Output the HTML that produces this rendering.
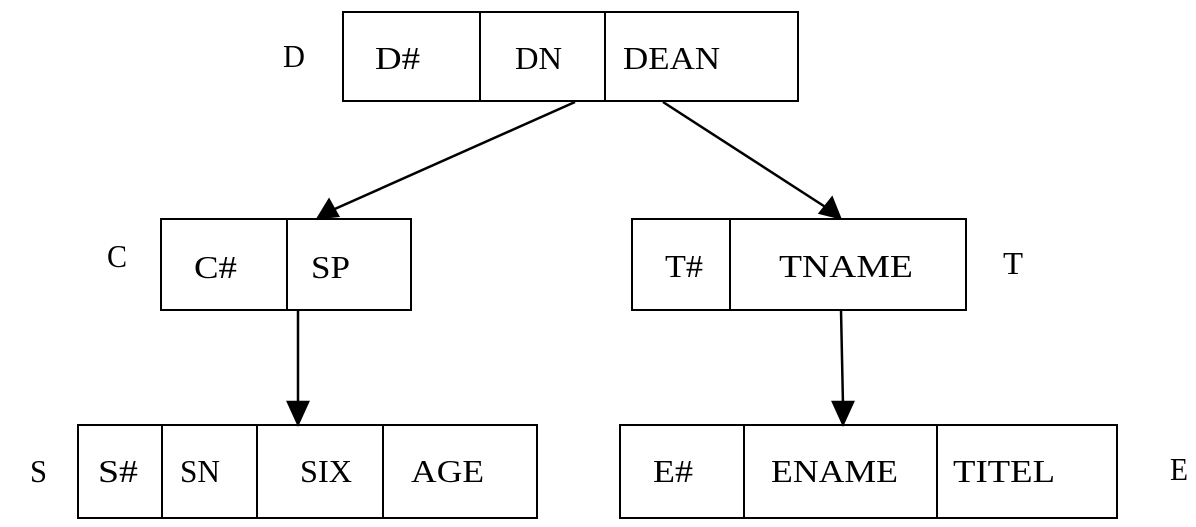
<!DOCTYPE html>
<html><head><meta charset="utf-8"><style>html,body{margin:0;padding:0;background:#fff}svg{display:block}</style></head>
<body>
<svg width="1196" height="527" viewBox="0 0 1196 527" xmlns="http://www.w3.org/2000/svg">
<g fill="none" stroke="#000" stroke-width="2">
<rect x="343" y="12" width="455" height="89"/><line x1="480" y1="12" x2="480" y2="101"/><line x1="605" y1="12" x2="605" y2="101"/>
<rect x="161" y="219" width="250" height="91"/><line x1="287" y1="219" x2="287" y2="310"/>
<rect x="632" y="219" width="334" height="91"/><line x1="730" y1="219" x2="730" y2="310"/>
<rect x="78" y="425" width="459" height="93"/><line x1="162" y1="425" x2="162" y2="518"/><line x1="257" y1="425" x2="257" y2="518"/><line x1="383" y1="425" x2="383" y2="518"/>
<rect x="620" y="425" width="497" height="93"/><line x1="744" y1="425" x2="744" y2="518"/><line x1="937" y1="425" x2="937" y2="518"/>
</g>
<g stroke="#000" stroke-width="2.5" fill="#000">
<line x1="575" y1="102" x2="328" y2="212"/><path d="M318,218 L329,200 L338,216 z"/>
<line x1="663" y1="102" x2="830" y2="210"/><path d="M840,218 L820,213 L832,198 z"/>
<line x1="298" y1="310" x2="298" y2="405"/><path d="M288,402 L308,402 L298,424 z"/>
<line x1="841" y1="310" x2="843" y2="405"/><path d="M833,402 L853,402 L843,424 z"/>
</g>
<g transform="scale(1.12,1)" font-family="Liberation Serif, serif" font-size="32" fill="#000">
<text x="252.7" y="67" textLength="19.6" lengthAdjust="spacingAndGlyphs">D</text>
<text x="334.8" y="69" textLength="40.2" lengthAdjust="spacingAndGlyphs">D#</text>
<text x="459.8" y="69" textLength="42" lengthAdjust="spacingAndGlyphs">DN</text>
<text x="556.3" y="69" textLength="86.6" lengthAdjust="spacingAndGlyphs">DEAN</text>
<text x="95.5" y="267" textLength="17.9" lengthAdjust="spacingAndGlyphs">C</text>
<text x="173.2" y="278" textLength="38.4" lengthAdjust="spacingAndGlyphs">C#</text>
<text x="277.7" y="278" textLength="34.8" lengthAdjust="spacingAndGlyphs">SP</text>
<text x="593.8" y="277" textLength="33.9" lengthAdjust="spacingAndGlyphs">T#</text>
<text x="695.5" y="277" textLength="119.6" lengthAdjust="spacingAndGlyphs">TNAME</text>
<text x="895.5" y="274" textLength="17.9" lengthAdjust="spacingAndGlyphs">T</text>
<text x="26.8" y="482" textLength="15.2" lengthAdjust="spacingAndGlyphs">S</text>
<text x="87.5" y="482" textLength="35.7" lengthAdjust="spacingAndGlyphs">S#</text>
<text x="160.7" y="482" textLength="35.7" lengthAdjust="spacingAndGlyphs">SN</text>
<text x="267.9" y="482" textLength="46.4" lengthAdjust="spacingAndGlyphs">SIX</text>
<text x="367" y="482" textLength="65.2" lengthAdjust="spacingAndGlyphs">AGE</text>
<text x="583" y="482" textLength="35.7" lengthAdjust="spacingAndGlyphs">E#</text>
<text x="688.4" y="482" textLength="113.4" lengthAdjust="spacingAndGlyphs">ENAME</text>
<text x="850.9" y="482" textLength="91.1" lengthAdjust="spacingAndGlyphs">TITEL</text>
<text x="1044.6" y="480" textLength="16.1" lengthAdjust="spacingAndGlyphs">E</text>
</g>
</svg>
</body></html>
